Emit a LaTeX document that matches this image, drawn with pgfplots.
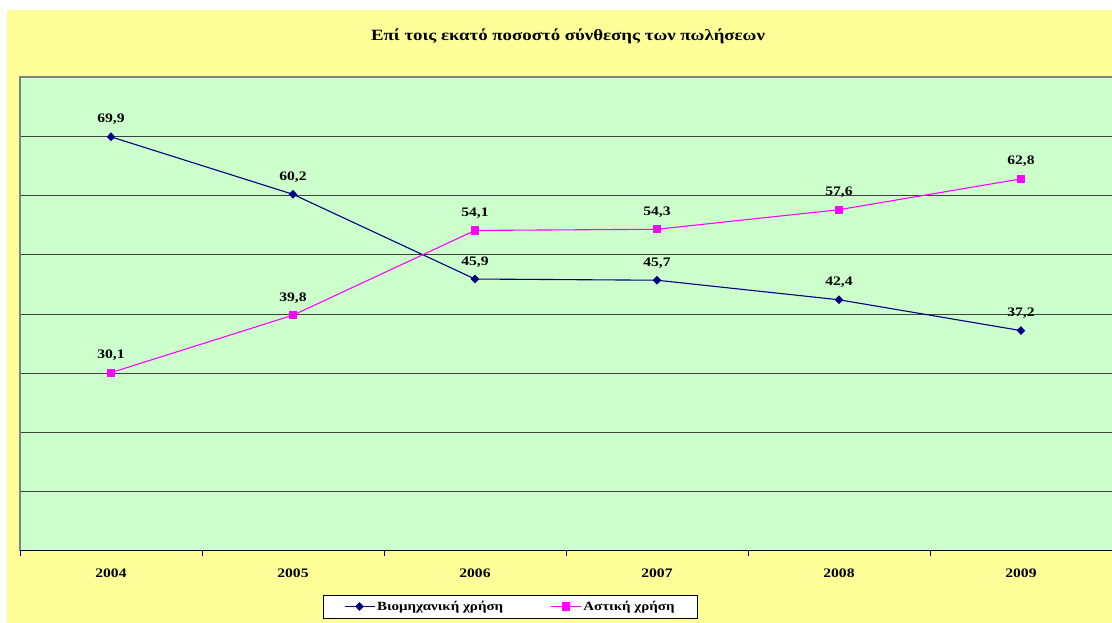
\documentclass[border=0pt]{standalone}
\usepackage{fontspec}
\setmainfont{Liberation Serif}[FakeStretch=1.2]
\usepackage{pgfplots}
\pgfplotsset{compat=1.18}
\definecolor{bgyellow}{HTML}{FFFF99}
\definecolor{bggreen}{HTML}{CCFFCC}
\definecolor{navyline}{HTML}{000080}
\definecolor{pinkline}{HTML}{FF00FF}
\definecolor{gridgray}{HTML}{404040}
\definecolor{bordergray}{HTML}{808080}
\begin{document}
\begin{tikzpicture}[x=1pt,y=1pt]
\fill[white] (0,0) rectangle (1112,623);
\fill[bgyellow] (7,0) rectangle (1112,613);
\node[font=\fontsize{15.7}{18}\selectfont\bfseries, anchor=base, inner sep=0pt] at (568,582) {Επί τοις εκατό ποσοστό σύνθεσης των πωλήσεων};
\begin{axis}[
  at={(20pt,72pt)}, anchor=south west,
  scale only axis, width=1092pt, height=474pt,
  xmin=-0.5, xmax=5.5, ymin=0, ymax=80,
  clip=false,
  axis background/.style={fill=bggreen},
  axis line style={draw=none},
  ytick={10,20,...,70}, yticklabels={},
  ymajorgrids, grid style={draw=gridgray, line width=0.8pt},
  major tick length=0pt,
  xtick={0,1,2,3,4,5},
  xticklabels={2004,2005,2006,2007,2008,2009},
  minor xtick={-0.5,0.5,1.5,2.5,3.5,4.5,5.5},
  xtick pos=bottom, ytick pos=left,
  tick align=outside,
  minor tick length=5pt,
  minor tick style={black, line width=0.8pt},
  xticklabel style={font=\fontsize{13}{15}\selectfont\bfseries, yshift=-14pt},
  /pgf/number format/assume math mode=true,
  nodes near coords={\pgfmathprintnumber[use comma,fixed,fixed zerofill,precision=1,assume math mode=true]{\pgfplotspointmeta}},
  every node near coord/.append style={anchor=base, yshift=14pt, font=\fontsize{13}{15}\selectfont\bfseries, text=black},
  legend style={at={(0.449,-0.117)}, anchor=center, legend columns=2, draw=black, fill=white,
    font=\fontsize{12.5}{15}\selectfont\bfseries, inner xsep=21pt, inner ysep=4pt,
    /tikz/every even column/.append style={column sep=45pt}},
  legend image code/.code={\draw[mark repeat=2,mark phase=2,#1] plot coordinates {(0pt,0pt) (15pt,0pt) (30pt,0pt)};},
]
\addplot[color=navyline, line width=1.1pt, mark=diamond*, mark size=3.6pt, mark options={fill=navyline, xscale=1.3}]
  coordinates {(0,69.9) (1,60.2) (2,45.9) (3,45.7) (4,42.4) (5,37.2)};
\addlegendentry{Βιομηχανική χρήση}
\addplot[color=pinkline, line width=1.1pt, mark=square*, mark size=3.6pt, mark options={fill=pinkline}]
  coordinates {(0,30.1) (1,39.8) (2,54.1) (3,54.3) (4,57.6) (5,62.8)};
\addlegendentry{Αστική χρήση}
\draw[bordergray, line width=1.5pt] (rel axis cs:0,0) -- (rel axis cs:0,1) -- (rel axis cs:1,1);
\draw[black, line width=1pt] (rel axis cs:0,0) -- (rel axis cs:1,0);
\end{axis}
\pgfresetboundingbox
\path[use as bounding box] (0,0) rectangle (1112,623);
\end{tikzpicture}
\end{document}
